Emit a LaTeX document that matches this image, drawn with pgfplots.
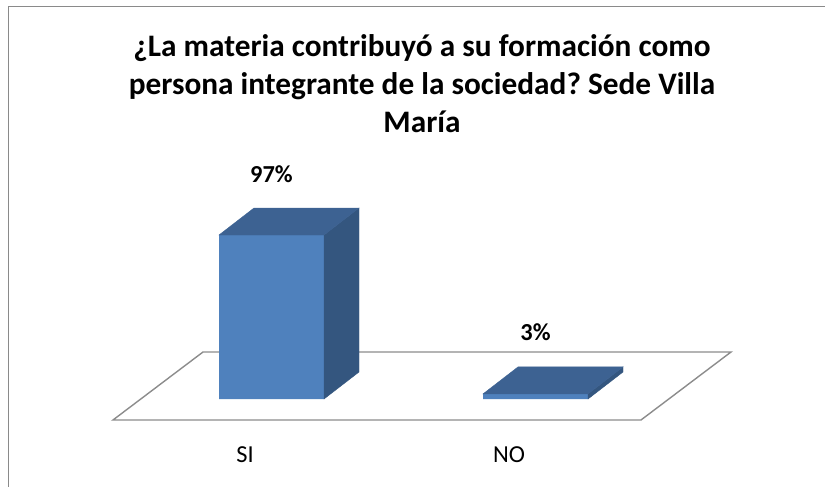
\documentclass[border=0pt]{standalone}
\usepackage{pgfplots}
\pgfplotsset{compat=1.18}
\usepackage{pgfplotstable}
\usepackage{fontspec}
\setmainfont{Carlito}
\frenchspacing
\definecolor{front}{HTML}{4F81BD}
\definecolor{topc}{HTML}{3D6292}
\definecolor{sidec}{HTML}{34567F}
\definecolor{floorc}{HTML}{8C8C8C}
\definecolor{borderc}{HTML}{8A8A8A}

\pgfplotstableread{
x v
0 97
1 3
}\data

\begin{document}
\begin{tikzpicture}
\begin{axis}[
  x=264pt, y=1.6907pt,
  xmin=-1.028409, xmax=2.096591,
  ymin=-51.458, ymax=236.0,
  clip=false,
  /pgf/number format/assume math mode=true,
  axis line style={draw=none},
  major tick length=0pt,
  ytick=\empty,
  xtick={-0.1,0.9},
  xticklabels={SI,NO},
  xticklabel style={anchor=center, yshift=31pt, font=\fontsize{24.4}{29}\selectfont},
  title={¿La materia contribuyó a su formación como\\persona integrante de la sociedad? Sede Villa\\María},
  title style={at={(0.5115,0.918)}, anchor=north, inner sep=0pt, align=center,
    font=\fontsize{31.3}{38}\selectfont\bfseries},
]
% floor
\addplot[fill=white, draw=floorc, line width=1.4pt] coordinates {
  (-0.6004,-12.42) (1.3996,-12.42) (1.7405,27.80) (-0.2595,27.80)} -- cycle;
% top and side faces of the bars
\addplot[scatter, only marks, mark=*, mark size=0.1pt,
  visualization depends on={\thisrow{v} \as \val},
  scatter/@pre marker code/.code={%
    \pgfmathsetmacro\h{\val*1.6907}%
    \fill[sidec] (52.5pt,0pt) -- (87.5pt,27pt) -- (87.5pt,27pt-\h pt) -- (52.5pt,-\h pt) -- cycle;
    \fill[topc] (-52.5pt,0pt) -- (-17.5pt,27pt) -- (87.5pt,27pt) -- (52.5pt,0pt) -- cycle;
    \begin{scope}[opacity=0]},
  scatter/@post marker code/.code={\end{scope}},
] table[x=x, y=v] {\data};
% front faces
\addplot[ybar, bar width=0.3977, bar shift=0pt, fill=front, draw=none,
  nodes near coords={\pgfmathprintnumber{\pgfplotspointmeta}\%},
  point meta=y,
  nodes near coords style={anchor=base, inner sep=0pt, yshift=53pt,
    font=\fontsize{24.4}{29}\selectfont\bfseries, text=black},
] table[x=x, y=v] {\data};
% chart border
\draw[borderc, line width=1.5pt] (rel axis cs:0.0103,-0.05) |- (rel axis cs:1.05,0.9866);
\end{axis}
\pgfresetboundingbox
\path[use as bounding box] (current axis.south west) rectangle (current axis.north east);
\end{tikzpicture}
\end{document}
